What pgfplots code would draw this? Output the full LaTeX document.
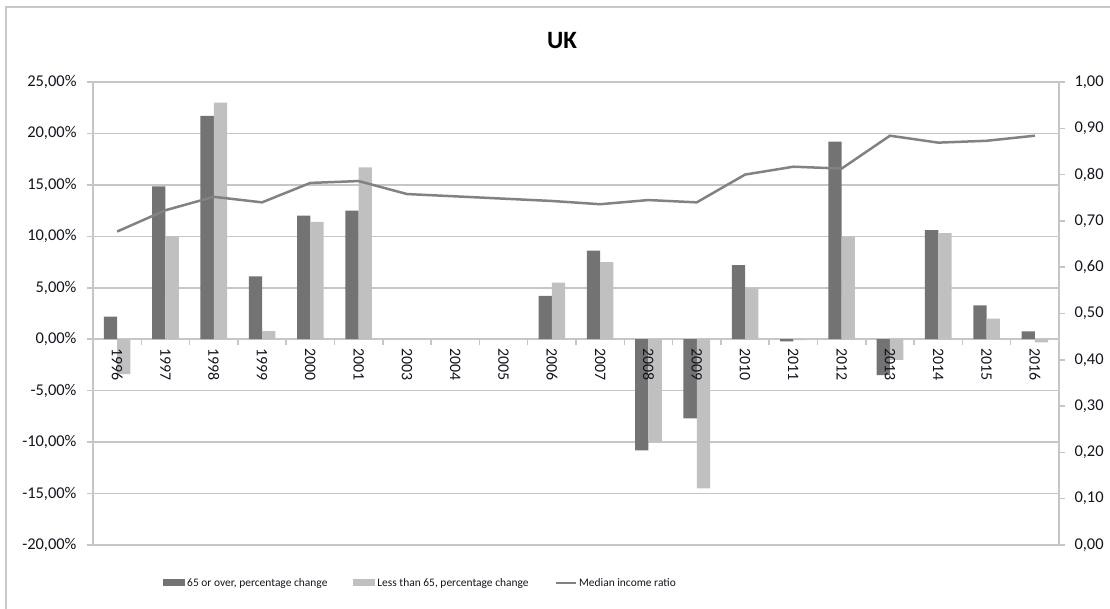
\documentclass[border=0pt]{standalone}
\usepackage{fontspec}
\setmainfont{Carlito}
\usepackage{pgfplots}
\pgfplotsset{compat=1.18}
\definecolor{darkbar}{RGB}{115,115,115}
\definecolor{lightbar}{RGB}{192,192,192}
\definecolor{linegray}{RGB}{130,130,130}
\definecolor{gridgray}{RGB}{198,198,198}
\definecolor{framegray}{RGB}{200,200,200}
\definecolor{txt}{RGB}{20,20,30}
\begin{document}
\begin{tikzpicture}[x=1bp,y=1bp]
\useasboundingbox (0,0) rectangle (1110,609);
\draw[line width=2bp, color=framegray] (6,-10) -- (6,602) -- (1120,602);
\node[font=\bfseries\fontsize{25}{30}\selectfont, text=black] at (562,568) {UK};
\begin{axis}[
  at={(93bp,64bp)}, anchor=south west,
  scale only axis, width=966bp, height=463bp,
  xmin=-0.5, xmax=19.5,
  ymin=-20, ymax=25,
  ytick={-20,-15,...,25},
  xtick={0,...,19},
  xticklabels={},
  minor xtick={0.5,1.5,...,18.5},
  axis y line*=left,
  axis x line*=middle,
  hide obscured x ticks=false,
  hide obscured y ticks=false,
  axis line style={draw=gridgray, line width=1.5bp},
  every major x tick/.style={draw=none},
  tick style={draw=gridgray, line width=1.5bp},
  tick align=outside,
  major tick length=6bp,
  minor tick length=6bp,
  ymajorgrids,
  grid style={draw=gridgray, line width=1.5bp},
  yticklabel={\pgfmathprintnumber[fixed,fixed zerofill,precision=2,use comma]{\tick}\%},
  /pgf/number format/assume math mode=true,
  yticklabel style={font=\fontsize{16.5}{18}\selectfont, text=txt, xshift=-7bp},
  ybar=0pt, bar width=13.3bp,
  legend columns=3,
  legend style={at={(0.0725,-0.082)}, anchor=west, draw=none, fill=none,
    font=\fontsize{11.5}{13}\selectfont, text=txt, inner sep=0pt,
    /tikz/every even column/.append style={column sep=24bp}},
  legend cell align=left,
]
\addplot[fill=darkbar, draw=none,
  legend image code/.code={\fill[darkbar] (0bp,-3.5bp) rectangle (22bp,3.5bp);}]
  coordinates {(0,2.2) (1,14.85) (2,21.7) (3,6.1) (4,12.0) (5,12.5)
  (9,4.2) (10,8.6) (11,-10.8) (12,-7.7) (13,7.2) (14,-0.2) (15,19.2)
  (16,-3.5) (17,10.6) (18,3.3) (19,0.75)};
\addlegendentry{65 or over, percentage change}
\addplot[fill=lightbar, draw=none,
  legend image code/.code={\fill[lightbar] (0bp,-3.5bp) rectangle (22bp,3.5bp);}]
  coordinates {(0,-3.4) (1,10.0) (2,23.0) (3,0.78) (4,11.4) (5,16.7)
  (9,5.5) (10,7.5) (11,-10.0) (12,-14.5) (13,5.0) (14,-0.08) (15,10.0)
  (16,-2.0) (17,10.3) (18,2.0) (19,-0.3)};
\addlegendentry{Less than 65, percentage change}
\addlegendimage{legend image code/.code={\draw[linegray, line width=2.5bp] (0bp,0bp) -- (20bp,0bp);}}
\addlegendentry{Median income ratio}
\end{axis}
\begin{axis}[
  at={(93bp,64bp)}, anchor=south west,
  scale only axis, width=966bp, height=463bp,
  xmin=-0.5, xmax=19.5,
  ymin=0, ymax=1,
  ytick={0,0.1,...,1.0},
  xtick={0,...,19},
  xticklabels={1996,1997,1998,1999,2000,2001,2003,2004,2005,2006,2007,2008,2009,2010,2011,2012,2013,2014,2015,2016},
  axis y line*=right,
  axis x line*=bottom,
  x axis line style={draw=none},
  every major x tick/.style={draw=none},
  xticklabel shift={-205.8bp},
  xticklabel style={font=\fontsize{16}{18}\selectfont, text=txt, rotate=-90, anchor=west},
  axis line style={draw=gridgray, line width=1.5bp},
  tick style={draw=gridgray, line width=1.5bp},
  tick align=outside,
  major tick length=6bp,
  yticklabel={\pgfmathprintnumber[fixed,fixed zerofill,precision=2,use comma]{\tick}},
  /pgf/number format/assume math mode=true,
  yticklabel style={font=\fontsize{16.5}{18}\selectfont, text=txt, xshift=6bp},
]
\addplot[linegray, line width=2.5bp, mark=none]
  coordinates {(0,0.677) (1,0.723) (2,0.752) (3,0.740) (4,0.782) (5,0.786)
  (6,0.758) (7,0.753) (8,0.748) (9,0.743) (10,0.736) (11,0.745) (12,0.740)
  (13,0.800) (14,0.817) (15,0.813) (16,0.884) (17,0.869) (18,0.873) (19,0.884)};
\end{axis}
\end{tikzpicture}
\end{document}
